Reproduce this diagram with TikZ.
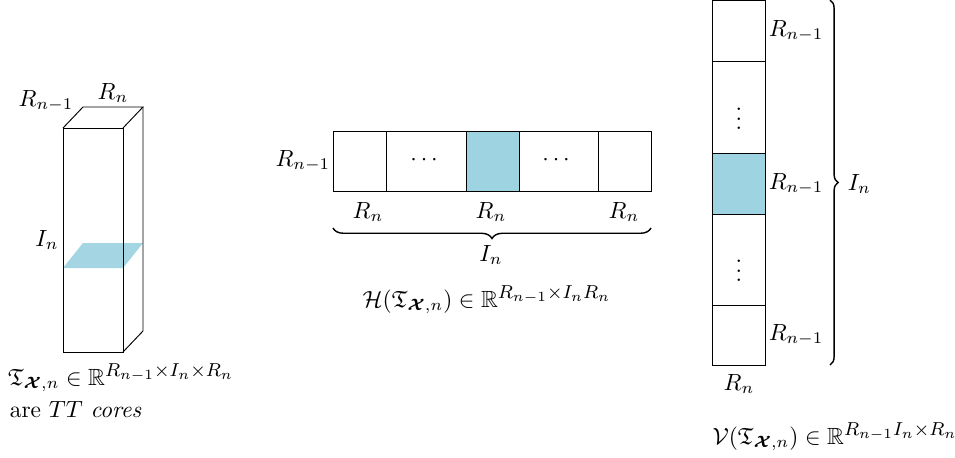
\documentclass[tikz,border=0pt]{standalone}
\usepackage{amsmath,amssymb}
\usetikzlibrary{decorations.pathreplacing}
\definecolor{cellblue}{RGB}{158,211,226}
\tikzset{
  cell/.style={draw, thin},
  hit/.style={cell, fill=cellblue},
  lab/.style={inner sep=1pt},
  accol/.style={decorate, decoration={brace, amplitude=#1}, semithick},
}
\newcommand{\core}{\mathfrak{T}_{\boldsymbol{\mathcal{X}},n}}
\newcommand{\expo}[1]{^{\mbox{\footnotesize\medmuskip=0mu$#1$}}}
\begin{document}
\begin{tikzpicture}[x=0.015cm, y=-0.015cm]
  \useasboundingbox (0,0) rectangle (955,457);

  % le noyau TT en 3D
  \def\dx{20}
  \def\dy{-21}
  \fill[cellblue, opacity=0.95] (63,268) -- (123,268) -- (143,243) -- (83,243) -- cycle;
  \draw[cell] (63,128) rectangle (123,352);
  \draw[cell] (63,128) -- ++(\dx,\dy) -- (143,107) -- (123,128);
  \draw[cell] (143,107) -- (143,331) -- (123,352);
  \node[lab] (rprev) at (46,101) {$R_{n-1}$};
  \node[lab] (rcur) at (113,93) {$R_n$};
  \node[lab] (in) at (47,240) {$I_n$};
  \node[lab] (capA) at (121,378) {$\core \in \mathbb{R}\expo{R_{n-1}\times I_n\times R_n}$};
  \node[lab, anchor=west] (tt) at (7,410) {are $TT$ \emph{cores}};

  % matrice horizontale
  \begin{scope}
    \draw[cell] (333,131) rectangle (386,191);
    \draw[cell] (386,131) rectangle (466,191);
    \draw[hit] (466,131) rectangle (519,191);
    \draw[cell] (519,131) rectangle (598,191);
    \draw[cell] (598,131) rectangle (651,191);
  \end{scope}
  \node[lab] (hd1) at (426,160) {$\cdots$};
  \node[lab] (hd2) at (558,160) {$\cdots$};
  \node[lab, anchor=east] (hrow) at (333,161) {$R_{n-1}$};
  \foreach \x/\nm in {368/ha, 491/hb, 624/hc}
    \node[lab] (\nm) at (\x,212) {$R_n$};
  \coordinate (hbl) at (333,228);
  \coordinate (hbr) at (651,228);
  \draw[accol=4.5pt] (hbr) -- (hbl);
  \node[lab] (hin) at (491,255) {$I_n$};
  \node[lab] (capH) at (487,300) {$\mathcal{H}(\core) \in \mathbb{R}\expo{R_{n-1}\times I_n R_n}$};

  % matrice verticale
  \draw[cell] (712,0) rectangle (765,61);
  \draw[cell] (712,61) rectangle (765,153);
  \draw[hit] (712,153) rectangle (765,214);
  \draw[cell] (712,214) rectangle (765,305);
  \draw[cell] (712,305) rectangle (765,365);
  \node[lab] (vd1) at (739,112) {$\vdots$};
  \node[lab] (vd2) at (739,264) {$\vdots$};
  \foreach \y/\nm in {31/va, 184/vb, 335/vc}
    \node[lab, anchor=west] (\nm) at (766,\y) {$R_{n-1}$};
  \node[lab] (vcol) at (739,384) {$R_n$};
  \coordinate (vbt) at (830,0);
  \coordinate (vbb) at (830,365);
  \draw[accol=3.5pt] (vbt) -- (vbb);
  \node[lab, anchor=west] (vin) at (845,184) {$I_n$};
  \node[lab] (capV) at (835,437) {$\mathcal{V}(\core) \in \mathbb{R}\expo{R_{n-1}I_n\times R_n}$};
\end{tikzpicture}
\end{document}
